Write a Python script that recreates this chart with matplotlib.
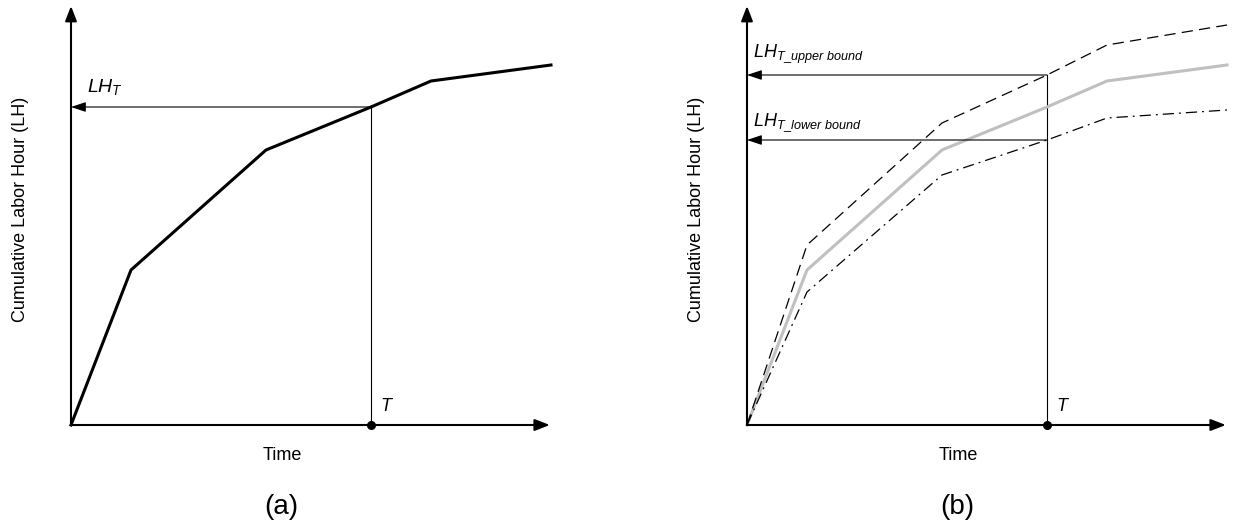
import matplotlib
matplotlib.use("Agg")
import matplotlib.pyplot as plt

plt.rcParams['font.family'] = ['Liberation Sans', 'DejaVu Sans']
plt.rcParams['mathtext.fontset'] = 'custom'
plt.rcParams['mathtext.rm'] = 'Liberation Sans'
plt.rcParams['mathtext.it'] = 'Liberation Sans:italic'
plt.rcParams['mathtext.bf'] = 'Liberation Sans:bold'

# ---- data (chart units) ----
time = [0, 1, 3.25, 5, 6, 8]
lh_mean = [0, 155, 275, 318, 344, 360]
lh_upper = [0, 180, 302, 350, 380, 400]
lh_lower = [0, 133, 250, 285, 307, 315]
T = 5
x_max = 7.98
y_max = 419

W, H = 1233, 525
fig = plt.figure(figsize=(W / 100, H / 100), dpi=100)

def make_axes(x0_px, y0_px):
    ax = fig.add_axes([x0_px / W, (H - y0_px) / H, 480 / W, 420 / H])
    ax.set_xlim(0, 8)
    ax.set_ylim(0, 420)
    ax.axis('off')
    # axes arrows
    ax.annotate('', xy=(x_max, 0), xytext=(0, 0),
                arrowprops=dict(arrowstyle='-|>,head_length=0.9,head_width=0.35',
                                lw=1.5, color='black', shrinkA=0, shrinkB=0),
                annotation_clip=False)
    ax.annotate('', xy=(0, y_max), xytext=(0, 0),
                arrowprops=dict(arrowstyle='-|>,head_length=0.9,head_width=0.35',
                                lw=1.5, color='black', shrinkA=0, shrinkB=0),
                annotation_clip=False)
    ax.text(-0.84, 216, 'Cumulative Labor Hour (LH)', rotation=90,
            ha='center', va='center', fontsize=13)
    ax.text(3.52, -30, 'Time', ha='center', va='center', fontsize=13)
    return ax

def h_arrow(ax, yv):
    ax.annotate('', xy=(0, yv), xytext=(T, yv),
                arrowprops=dict(arrowstyle='-|>,head_length=0.9,head_width=0.3',
                                lw=0.8, color='black', shrinkA=0, shrinkB=0),
                annotation_clip=False)

# ---- panel (a) ----
ax1 = make_axes(71, 425)
lhT = lh_mean[time.index(T)]
ax1.plot([T, T], [0, lhT], color='black', lw=0.8)
h_arrow(ax1, lhT)
ax1.plot(time, lh_mean, color='black', lw=2.2, clip_on=False, solid_joinstyle='miter')
ax1.plot([T], [0], 'o', color='black', ms=5.5, clip_on=False)
ax1.text(T + 0.15, 10, '$T$', fontsize=13, ha='left', va='bottom')
ax1.text(0.26, 328, r'$LH_T$', fontsize=14, ha='left', va='bottom')
ax1.text(3.5, -82, '(a)', ha='center', va='center', fontsize=20)

# ---- panel (b) ----
ax2 = make_axes(747, 425)
upT = lh_upper[time.index(T)]
loT = lh_lower[time.index(T)]
ax2.plot([T, T], [0, upT], color='black', lw=0.8)
h_arrow(ax2, upT)
h_arrow(ax2, loT)
ax2.plot(time, lh_mean, color='#c0c0c0', lw=2.2, clip_on=False)
ax2.plot(time, lh_upper, color='black', lw=0.9, ls=(0, (9, 5)), clip_on=False)
ax2.plot(time, lh_lower, color='black', lw=0.9, ls=(0, (9, 4, 1.5, 4)), clip_on=False)
ax2.plot([T], [0], 'o', color='black', ms=5.5, clip_on=False)
ax2.text(T + 0.15, 10, '$T$', fontsize=13, ha='left', va='bottom')
ax2.text(0.1, 360, r'$LH_{T\_upper\ bound}$', fontsize=13, ha='left', va='bottom')
ax2.text(0.1, 291, r'$LH_{T\_lower\ bound}$', fontsize=13, ha='left', va='bottom')
ax2.text(3.5, -82, '(b)', ha='center', va='center', fontsize=20)

fig.savefig('out.png', dpi=100)
